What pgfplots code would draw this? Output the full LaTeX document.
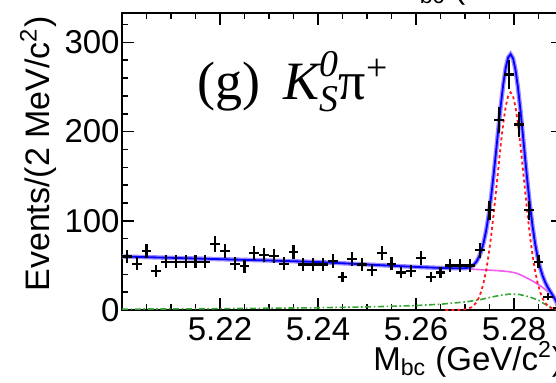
\documentclass[border=0pt]{standalone}
\usepackage{amsmath}
\usepackage{fontspec}
\setmainfont{Liberation Sans}
\newfontfamily\seriffont{Liberation Serif}
\usepackage{pgfplots}
\usepackage{pgfplotstable}
\pgfplotsset{compat=1.18}

\definecolor{fitblue}{rgb}{0,0,1}
\definecolor{halo}{rgb}{0.62,0.55,1}
\definecolor{bkgmag}{rgb}{0.94,0.35,0.94}
\definecolor{sigred}{rgb}{1,0.1,0.1}
\definecolor{pkgreen}{rgb}{0.2,0.65,0.2}

\pgfplotstableread{
m n ex ey
5.201 60 0.001 7.7
5.203 52 0.001 7.2
5.205 66 0.001 8.1
5.207 44 0.001 6.6
5.209 54 0.001 7.3
5.211 54 0.001 7.3
5.213 54 0.001 7.3
5.215 54 0.001 7.3
5.217 54 0.001 7.3
5.219 74 0.001 8.6
5.221 66 0.001 8.1
5.223 52 0.001 7.2
5.225 49 0.001 7.0
5.227 64 0.001 8.0
5.229 62 0.001 7.9
5.231 61 0.001 7.8
5.233 52 0.001 7.2
5.235 65 0.001 8.1
5.237 51 0.001 7.1
5.239 51 0.001 7.1
5.241 51 0.001 7.1
5.243 55 0.001 7.4
5.245 37 0.001 6.1
5.247 57 0.001 7.5
5.249 51 0.001 7.1
5.251 45 0.001 6.7
5.253 64 0.001 8.0
5.255 52 0.001 7.2
5.257 42 0.001 6.5
5.259 44 0.001 6.6
5.261 58 0.001 7.6
5.263 37 0.001 6.1
5.265 42 0.001 6.5
5.267 50 0.001 7.1
5.269 50 0.001 7.1
5.271 50 0.001 7.1
5.273 67 0.001 8.2
5.275 112 0.001 10.6
5.277 213 0.001 14.6
5.279 264 0.001 16.2
5.281 208 0.001 14.4
5.283 112 0.001 10.6
5.285 54 0.001 7.3
5.287 15 0.001 3.9
5.289 2 0.001 1.4
}\datatable

\begin{document}
\begin{tikzpicture}
\useasboundingbox (-61pt,-36pt) rectangle (217pt,155pt);
\begin{axis}[
  at={(0pt,0pt)}, anchor=south west,
  scale only axis, width=220.5pt, height=148.5pt,
  xmin=5.2, xmax=5.29, ymin=0, ymax=333,
  xtick={5.2,5.22,5.24,5.26,5.28},
  xticklabels={,5.22,5.24,5.26,5.28},
  minor xtick={5.205,5.21,5.215,5.225,5.23,5.235,5.245,5.25,5.255,5.265,5.27,5.275,5.285},
  ytick={0,100,200,300},
  minor ytick={20,40,60,80,120,140,160,180,220,240,260,280,320},
  major tick length=6pt, minor tick length=3pt,
  tick style={black, line width=0.8pt},
  axis line style={line width=0.9pt},
  tick label style={font=\fontsize{16.5}{19}\selectfont},
  /pgf/number format/assume math mode=true,
  yticklabel style={inner xsep=1pt},
]
% peaking background (green dash-dot)
\addplot[pkgreen, line width=0.8pt, dash pattern=on 3pt off 1.3pt on 0.8pt off 1.3pt] coordinates {
(5.200,1) (5.210,1.2) (5.220,1.5) (5.230,2) (5.240,2.5) (5.250,3.5) (5.255,4.2) (5.260,5)
(5.265,6.5) (5.270,9) (5.273,11.5) (5.275,14) (5.277,16.3) (5.279,17.8) (5.281,17.5)
(5.283,15) (5.285,11) (5.286,7.5) (5.287,4.5) (5.288,2) (5.289,0.5) (5.290,0)};
% background (magenta)
\addplot[bkgmag, line width=0.8pt] coordinates {
(5.200,60) (5.210,58.5) (5.220,57) (5.230,55.5) (5.240,53.8) (5.250,51) (5.260,48.3)
(5.265,47.2) (5.270,46.2) (5.274,45.0) (5.277,44.0) (5.279,43.0) (5.2803,41.6)
(5.2813,39.5) (5.2823,36.8) (5.2833,34.0) (5.2843,30.9) (5.2853,27.4) (5.2863,23.4)
(5.2873,18.6) (5.2878,15.6) (5.2883,11.9) (5.2886,9.0) (5.2888,6.4) (5.2889,4.5) (5.2890,0)};
% total fit (blue): halo
\addplot[halo, line width=2.2pt] coordinates {
(5.200,60) (5.210,58.5) (5.220,57) (5.230,55.5) (5.240,53.8) (5.250,51) (5.260,48.3)
(5.265,47.2) (5.2683,46.8) (5.2693,46.8) (5.2703,47.0) (5.2713,48.7) (5.2718,50.8)
(5.2723,53.9) (5.2728,58.8) (5.2733,65.8) (5.2738,75.6) (5.2743,88.7) (5.2748,105.5)
(5.2753,125.8) (5.2758,149.6) (5.2763,175.7) (5.2768,202.9) (5.2773,229.3) (5.2778,252.7)
(5.2783,271.2) (5.2788,283.0) (5.2793,286.8) (5.2798,282.2) (5.2803,269.4) (5.2808,249.7)
(5.2813,225.0) (5.2818,197.1) (5.2823,168.4) (5.2828,140.7) (5.2833,115.4) (5.2838,93.3)
(5.2843,74.8) (5.2848,59.8) (5.2853,48.1) (5.2858,39.0) (5.2863,31.9) (5.2868,26.3)
(5.2873,21.6) (5.2878,17.4) (5.2883,12.8) (5.2886,9.6) (5.2888,6.9) (5.2889,4.9)
(5.2890,0.3) (5.2900,0.1)};
% total fit (blue): core
\addplot[fitblue, line width=0.9pt] coordinates {
(5.200,60) (5.210,58.5) (5.220,57) (5.230,55.5) (5.240,53.8) (5.250,51) (5.260,48.3)
(5.265,47.2) (5.2683,46.8) (5.2693,46.8) (5.2703,47.0) (5.2713,48.7) (5.2718,50.8)
(5.2723,53.9) (5.2728,58.8) (5.2733,65.8) (5.2738,75.6) (5.2743,88.7) (5.2748,105.5)
(5.2753,125.8) (5.2758,149.6) (5.2763,175.7) (5.2768,202.9) (5.2773,229.3) (5.2778,252.7)
(5.2783,271.2) (5.2788,283.0) (5.2793,286.8) (5.2798,282.2) (5.2803,269.4) (5.2808,249.7)
(5.2813,225.0) (5.2818,197.1) (5.2823,168.4) (5.2828,140.7) (5.2833,115.4) (5.2838,93.3)
(5.2843,74.8) (5.2848,59.8) (5.2853,48.1) (5.2858,39.0) (5.2863,31.9) (5.2868,26.3)
(5.2873,21.6) (5.2878,17.4) (5.2883,12.8) (5.2886,9.6) (5.2888,6.9) (5.2889,4.9)
(5.2890,0.3) (5.2900,0.1)};
% signal (red dotted)
\addplot[sigred, line width=0.9pt, dash pattern=on 1.5pt off 1.5pt] coordinates {
(5.2660,0) (5.2683,0.1) (5.2693,0.3) (5.2703,0.9) (5.2713,3.0) (5.2718,5.2) (5.2723,8.5)
(5.2728,13.5) (5.2733,20.7) (5.2738,30.6) (5.2743,43.9) (5.2748,60.9) (5.2753,81.4)
(5.2758,105.3) (5.2763,131.6) (5.2768,158.9) (5.2773,185.5) (5.2778,209.1) (5.2783,227.8)
(5.2788,239.9) (5.2793,244) (5.2798,239.9) (5.2803,227.8) (5.2808,209.1) (5.2813,185.5)
(5.2818,158.9) (5.2823,131.6) (5.2828,105.3) (5.2833,81.4) (5.2838,60.9) (5.2843,43.9)
(5.2848,30.6) (5.2853,20.7) (5.2858,13.5) (5.2863,8.5) (5.2868,5.2) (5.2873,3.0)
(5.2883,0.9) (5.2893,0.3) (5.2900,0.1)};
% data: error-bar crosses only
\addplot[black, only marks, mark=*, mark size=0pt, mark options={draw=none, fill=none},
  error bars/.cd, x dir=both, x explicit, y dir=both, y explicit,
  error mark=none, error bar style={draw=black, solid, line width=1.1pt}]
  table[x=m, y=n, x error=ex, y error=ey] {\datatable};
\end{axis}
% y label
\node[rotate=90, anchor=center, inner sep=0pt, font=\fontsize{17}{20}\selectfont]
  at (-42pt,78pt) {Events/(2 MeV/c\textsuperscript{2})};
% x label
\node[anchor=base west, inner sep=0pt, font=\fontsize{16.5}{19}\selectfont]
  at (125.5pt,-30.25pt) {M\textsubscript{bc} (GeV/c\textsuperscript{2})};
% fragment of the panel above
\node[anchor=base west, inner sep=0pt, font=\fontsize{16.5}{19}\selectfont]
  at (135pt,156pt) {M\textsubscript{bc} (GeV/c\textsuperscript{2})};
% panel label
\node[anchor=base west, inner sep=0pt, font=\seriffont\fontsize{27}{31}\selectfont]
  at (37.5pt,105.5pt) {(g)\hspace{0.42em}$\text{\itshape K}^{\text{\itshape 0}}_{\text{\itshape S}}\text{π}^{\text{+}}$};
\end{tikzpicture}
\end{document}
